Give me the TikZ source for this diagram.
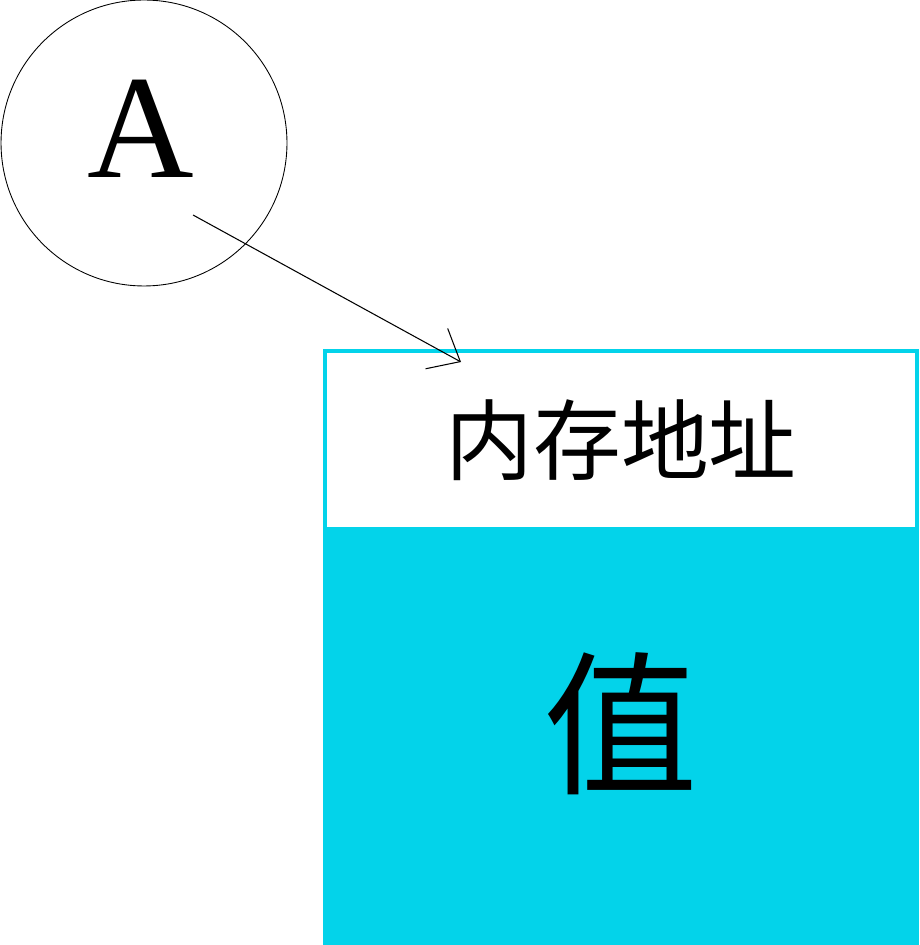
\documentclass[tikz,border=0pt]{standalone}
\usepackage{fontspec}
\setmainfont{Liberation Serif}
\newfontfamily\cjk{Noto Sans CJK SC}
\usetikzlibrary{arrows.meta,positioning}
\definecolor{memcyan}{RGB}{3,211,234}

\begin{document}
\begin{tikzpicture}[x=0.02cm, y=-0.02cm,
        varcircle/.style={circle,draw=black,line width=0.5pt,minimum size=5.72cm,inner sep=0pt},
        addrbox/.style={rectangle,draw=memcyan,fill=white,line width=0.08cm,
          minimum width=11.84cm,minimum height=3.56cm,inner sep=0pt,
          font=\cjk\fontsize{50}{56}\selectfont},
        valbox/.style={rectangle,fill=memcyan,minimum width=11.92cm,minimum height=8.32cm,
          inner sep=0pt,text depth=22pt,font=\cjk\fontsize{88}{96}\selectfont},
        arrow/.style={-{Straight Barb[length=0.54cm,width=0.92cm]},line width=0.6pt}]
        \useasboundingbox (0,0) rectangle (919,945);
        \clip (0,0) rectangle (919,945);
        \node[varcircle] (a) at (144,143) {};
        \node[font=\fontsize{84}{90}\selectfont] (alabel) at (141,129) {A};
        \node[valbox] (val) at (621,737) {值};
        \node[addrbox] (addr) at (621,440) {内存地址};
        \coordinate (tail) at (193,215);
        \coordinate (tip) at (461,362);
        \draw[arrow] (tail) -- (tip);
      \end{tikzpicture}
\end{document}
